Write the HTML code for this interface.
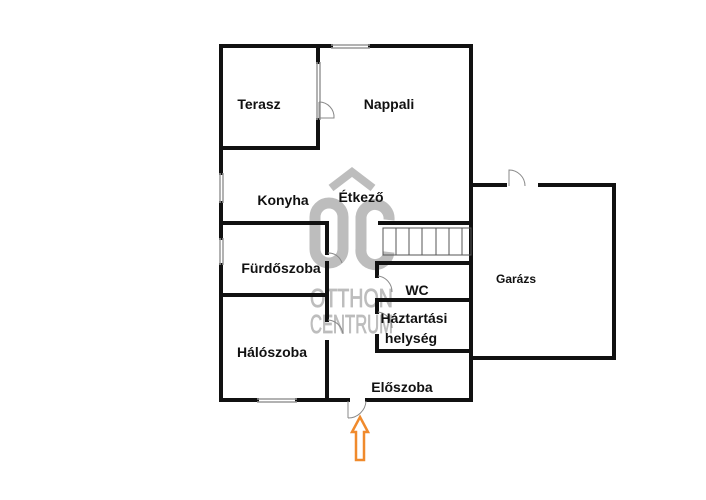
<!DOCTYPE html><html><head><style>body{margin:0;background:#fff}svg{display:block}</style></head><body>
<svg width="706" height="500" viewBox="0 0 706 500" xmlns="http://www.w3.org/2000/svg">
<rect width="706" height="500" fill="#fff"/>
<g fill="none" stroke="#bdbdbd" stroke-width="11">
<rect x="315" y="203" width="28" height="60" rx="14"/>
<path d="M389 220 A14 14 0 0 0 361 217 V249 A14 14 0 0 0 389 252"/>
<path d="M331 188 L352 172 L373 188" stroke-width="8"/>
</g>
<g font-family="Liberation Sans, sans-serif" fill="#bdbdbd" font-size="26" stroke="#bdbdbd" stroke-width="0.8">
<text x="310" y="307" textLength="83" lengthAdjust="spacingAndGlyphs">OTTHON</text>
<text x="310" y="333" textLength="83" lengthAdjust="spacingAndGlyphs">CENTRUM</text>
</g>
<g stroke="#111" stroke-width="4" fill="none" stroke-linecap="square">
<path d="M331 46 H221 V173 M221 203 V238 M221 265 V400 H257 M297 400 H348 M367 400 H471 V46 H370"/>
<path d="M318 46 V62 M318 120 V148 H221"/>
<path d="M221 223 H327 V253 M327 263 V320 M327 342 V400"/>
<path d="M221 295 H327"/>
<path d="M380 223 H471"/>
<path d="M377 263 H471 M377 263 V276 M377 300 V312 M377 336 V351 H471 M377 300 H471"/>
<path d="M471 185 H505 M540 185 H614 V358 H471"/>
</g>
<g stroke="#999" stroke-width="1.5" fill="none">
<path d="M331 45 H370 M331 48 H370"/>
<path d="M317 62 V120 M320 62 V120"/>
<path d="M220 173 V203 M223 173 V203"/>
<path d="M220 238 V265 M223 238 V265"/>
<path d="M257 399 H297 M257 402 H297"/>
</g>
<g stroke="#555" stroke-width="1" fill="none">
<rect x="383" y="228" width="88" height="27"/>
<path d="M396 228V255 M409 228V255 M422 228V255 M436 228V255 M449 228V255 M462 228V255"/>
</g>
<g stroke="#888" stroke-width="1" fill="none">
<path d="M319 102 V118 H334 A15 15 0 0 0 319 102"/>
<path d="M348 401 V418 M348 418 A18 18 0 0 0 366 401"/>
<path d="M509 186 V170 A16 16 0 0 1 525 186"/>
<path d="M328 253 A14 14 0 0 1 342 263 M328 320 A16 16 0 0 1 343 334"/>
<path d="M378 276 A16 16 0 0 1 392 292 M378 312 A16 16 0 0 1 392 328"/>
</g>
<g font-family="Liberation Sans, sans-serif" font-weight="bold" font-size="14" fill="#111" text-anchor="middle">
<text x="259" y="109">Terasz</text>
<text x="389" y="109">Nappali</text>
<text x="283" y="205">Konyha</text>
<text x="361" y="202">Étkező</text>
<text x="281" y="273">Fürdőszoba</text>
<text x="417" y="295">WC</text>
<text x="414" y="323">Háztartási</text>
<text x="411" y="343">helység</text>
<text x="272" y="357">Hálószoba</text>
<text x="402" y="392">Előszoba</text>
<text x="516" y="283" font-size="12">Garázs</text>
</g>
<path d="M360 417 L368 432 H364 V460 H356 V432 H352 Z" fill="none" stroke="#f08a2c" stroke-width="2.5"/>
</svg>
</body></html>
